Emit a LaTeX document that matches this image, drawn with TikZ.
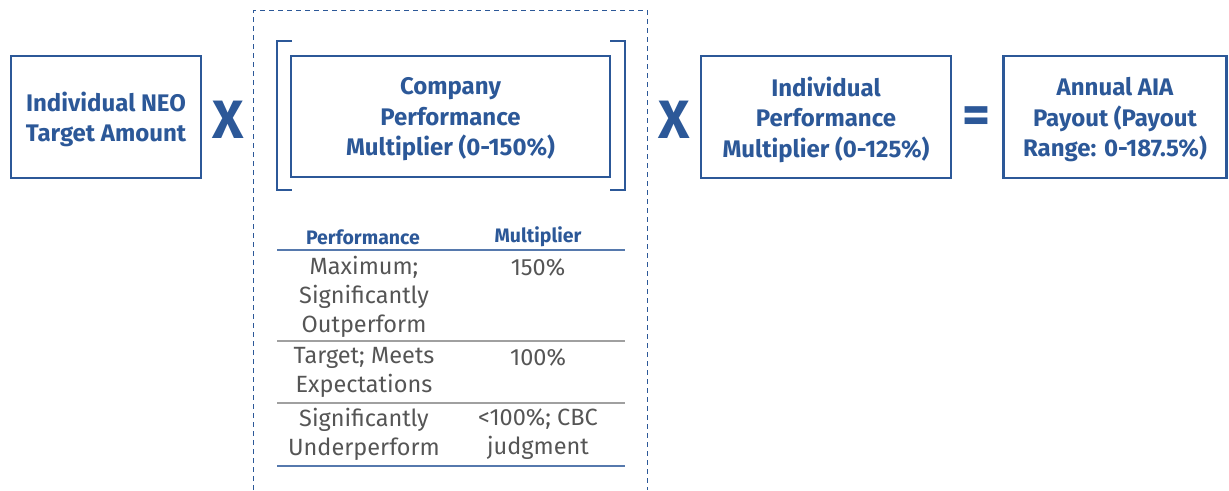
\documentclass[tikz,border=0pt]{standalone}
\usepackage{fontspec}
\setmainfont{Fira Sans}
\definecolor{navy}{RGB}{44,88,152}
\definecolor{txtgray}{RGB}{85,85,85}
\definecolor{rulegray}{RGB}{160,160,160}
\tikzset{
  bigbox/.style={draw=navy, line width=2.6pt, inner sep=0pt, align=center, text depth=0pt,
    text=navy, font=\fontsize{24}{30.5}\selectfont\bfseries},
  opsym/.style={text=navy, inner sep=0pt, font=\fontsize{54}{54}\selectfont\bfseries},
  headcell/.style={text=navy, inner sep=0pt, font=\fontsize{19.5}{22}\selectfont\bfseries},
  bodycell/.style={text=txtgray, inner sep=0pt, align=center, font=\fontsize{23.5}{29}\selectfont},
  bracket/.style={draw=navy, line width=2.6pt},
  dashframe/.style={draw=navy, line width=1.1pt, dash pattern=on 5pt off 4pt},
  bluerule/.style={draw=navy!80, line width=2pt},
  grayrule/.style={draw=rulegray, line width=1.3pt}
}
\begin{document}
\begin{tikzpicture}[x=1pt,y=-1pt]
\useasboundingbox (0,0) rectangle (1229,490);
% dashed frame (open at the bottom edge)
\coordinate (dfbl) at (253.5,490);
\coordinate (dftl) at (253.5,10.5);
\coordinate (dftr) at (647.5,10.5);
\coordinate (dfbr) at (647.5,490);
\draw[dashframe] (dfbl) -- (dftl) -- (dftr) -- (dfbr);
% boxes
\node[bigbox, minimum width=190pt, minimum height=122pt] (neo) at (106,117) {Individual NEO\\Target Amount};
\node[bigbox, minimum width=319pt, minimum height=121pt] (cpm) at (450.5,116.5) {Company\\Performance\\Multiplier (0-150\%)};
\node[bigbox, minimum width=250pt, minimum height=122pt] (ipm) at (826,117) {Individual\\Performance\\Multiplier (0-125\%)};
\node[bigbox, minimum width=223pt, minimum height=122pt] (aia) at (1115,117) {Annual AIA\\Payout (Payout\\Range: 0-187.5\%)};
% operators
\node[opsym] (x1) at (228,120) {X};
\node[opsym] (x2) at (674,120) {X};
\node[opsym] (eq) at (977,120) {=};
% brackets
\coordinate (lbt) at (292,41);
\coordinate (lbtc) at (277,41);
\coordinate (lbbc) at (277,190);
\coordinate (lbb) at (292,190);
\draw[bracket] (lbt) -- (lbtc) -- (lbbc) -- (lbb);
\coordinate (rbt) at (610,41);
\coordinate (rbtc) at (625,41);
\coordinate (rbbc) at (625,190);
\coordinate (rbb) at (610,190);
\draw[bracket] (rbt) -- (rbtc) -- (rbbc) -- (rbb);
% table
\node[headcell] (hperf) at (363,237) {Performance};
\node[headcell] (hmult) at (538,237) {Multiplier};
\coordinate (r0l) at (277,250); \coordinate (r0r) at (625,250);
\coordinate (r1l) at (277,341); \coordinate (r1r) at (625,341);
\coordinate (r2l) at (277,403); \coordinate (r2r) at (625,403);
\coordinate (r3l) at (277,466); \coordinate (r3r) at (625,466);
\draw[bluerule] (r0l) -- (r0r);
\draw[grayrule] (r1l) -- (r1r);
\draw[grayrule] (r2l) -- (r2r);
\draw[bluerule] (r3l) -- (r3r);
\node[bodycell] (p1) at (364,297) {Maximum;\\Significantly\\Outperform};
\node[bodycell] (m1) at (538,268) {150\%};
\node[bodycell] (p2) at (364,372.5) {Target; Meets\\Expectations};
\node[bodycell] (m2) at (538,358) {100\%};
\node[bodycell] (p3) at (364,434.5) {Significantly\\Underperform};
\node[bodycell] (m3) at (538,434.5) {<100\%; CBC\\judgment};
\end{tikzpicture}
\end{document}
